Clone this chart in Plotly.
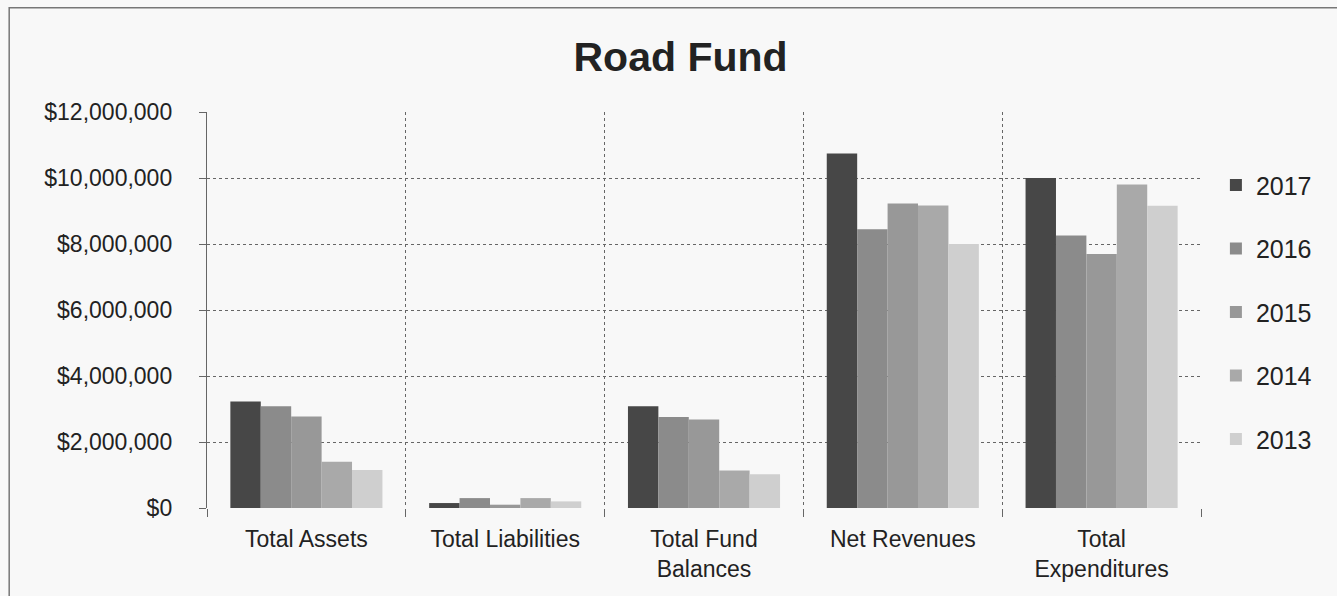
import plotly.graph_objects as go

categories = ["Total Assets", "Total Liabilities", "Total Fund<br>Balances", "Net Revenues", "Total<br>Expenditures"]
years = ["2017", "2016", "2015", "2014", "2013"]
v2017 = [3230000, 150000, 3080000, 10740000, 10000000]
v2016 = [3080000, 300000, 2760000, 8450000, 8260000]
v2015 = [2770000, 100000, 2680000, 9230000, 7700000]
v2014 = [1400000, 300000, 1140000, 9170000, 9800000]
v2013 = [1150000, 200000, 1020000, 8000000, 9160000]
series = [v2017, v2016, v2015, v2014, v2013]
colors = ["#474747", "#8b8b8b", "#989898", "#a9a9a9", "#cfcfcf"]
yticks = [0, 2000000, 4000000, 6000000, 8000000, 10000000, 12000000]
ytext = ["$0", "$2,000,000", "$4,000,000", "$6,000,000", "$8,000,000", "$10,000,000", "$12,000,000"]

xpos = list(range(len(categories)))
bounds = [i - 0.5 for i in range(len(categories) + 1)]

fig = go.Figure()
for name, vals, c in zip(years, series, colors):
    fig.add_trace(go.Bar(x=xpos, y=vals, name=name, marker=dict(color=c, line=dict(width=0)),
                         legendgroup=name))

fig.add_trace(go.Scatter(x=[bounds[0], bounds[-1]], y=[0, 0], xaxis="x2", mode="markers",
                         marker=dict(opacity=0), showlegend=False, hoverinfo="skip"))

font = "Liberation Sans, Arial, sans-serif"
grid = "#666666"
fig.update_layout(
    width=1337, height=596,
    margin=dict(l=207, r=136, t=112, b=88),
    paper_bgcolor="#f8f8f8", plot_bgcolor="#f8f8f8",
    barmode="group", bargap=0.235, bargroupgap=0,
    title=dict(text="<b>Road Fund</b>", x=0.509, xanchor="center", y=0.905, yanchor="middle",
               font=dict(family=font, size=41, color="#222")),
    font=dict(family=font, size=23, color="#222"),
    xaxis=dict(range=[bounds[0], bounds[-1]], tickvals=xpos, ticktext=categories,
               showgrid=False, ticks="", zeroline=False, ticklabelstandoff=15,
               tickfont=dict(size=23, color="#222")),
    xaxis2=dict(range=[bounds[0], bounds[-1]], overlaying="x", side="bottom", tickvals=bounds,
                showticklabels=False, showgrid=True, gridcolor=grid, griddash="dot", gridwidth=1.4,
                ticks="outside", ticklen=8, tickcolor=grid, zeroline=False, showline=False),
    yaxis=dict(range=[0, 12000000], tickvals=yticks, ticktext=ytext, showgrid=True,
               gridcolor=grid, griddash="dot", gridwidth=1.4, zeroline=False,
               ticks="outside", ticklen=7, tickcolor=grid, showline=True, linecolor=grid,
               linewidth=1.4, ticklabelstandoff=22, tickfont=dict(size=23, color="#222")),
    legend=dict(x=1.015, xanchor="left", y=0.873, yanchor="top", tracegroupgap=28,
                font=dict(size=25, color="#222"), bgcolor="rgba(0,0,0,0)", itemwidth=30),
    showlegend=True,
    shapes=[dict(type="rect", xref="paper", yref="paper", x0=-0.199, x1=1.14, y0=-0.25, y1=1.263,
                 line=dict(color="#777", width=1.5), fillcolor="rgba(0,0,0,0)", layer="below")],
)
fig.write_html("out.html")
